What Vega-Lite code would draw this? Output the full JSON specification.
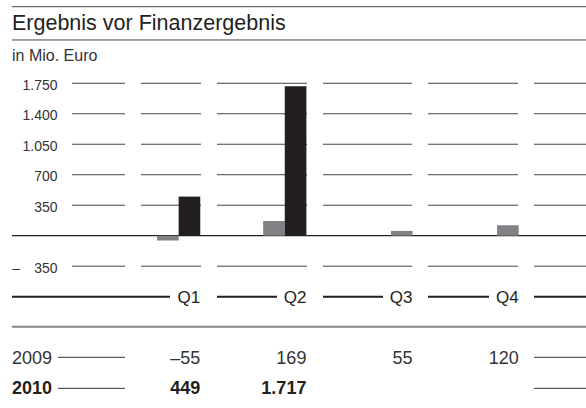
{
  "$schema": "https://vega.github.io/schema/vega-lite/v6.json",
  "width": 574,
  "height": 408,
  "autosize": "none",
  "padding": {"left": 12, "top": 0, "right": 0, "bottom": 0},
  "background": "white",
  "config": {
    "view": {"stroke": null},
    "font": "Liberation Sans",
    "locale": {"number": {"decimal": ",", "thousands": ".", "grouping": [3], "currency": ["", " €"], "minus": "–"}}
  },
  "data": {"values": [{"title": "Ergebnis vor Finanzergebnis", "unit": "in Mio. Euro"}]},
  "datasets": {
    "results": [
      {"quarter": "Q1", "year": "2009", "value": -55},
      {"quarter": "Q2", "year": "2009", "value": 169},
      {"quarter": "Q3", "year": "2009", "value": 55},
      {"quarter": "Q4", "year": "2009", "value": 120},
      {"quarter": "Q1", "year": "2010", "value": 449},
      {"quarter": "Q2", "year": "2010", "value": 1717}
    ],
    "ticks": [{"tick": -350}, {"tick": 350}, {"tick": 700}, {"tick": 1050}, {"tick": 1400}, {"tick": 1750}]
  },
  "layer": [
    {"mark": {"type": "rule", "color": "#444444", "strokeWidth": 1}, "encoding": {"y": {"datum": 2629}}},
    {"mark": {"type": "rule", "color": "#444444", "strokeWidth": 1}, "encoding": {"y": {"datum": 2247}}},
    {
      "mark": {"type": "text", "align": "left", "baseline": "alphabetic", "fontSize": 21.5, "color": "#231f20"},
      "encoding": {"x": {"value": 0}, "y": {"datum": 2356}, "text": {"field": "title"}}
    },
    {
      "mark": {"type": "text", "align": "left", "baseline": "alphabetic", "fontSize": 16, "color": "#333333"},
      "encoding": {"x": {"value": 0}, "y": {"datum": 2000}, "text": {"field": "unit"}}
    },
    {
      "data": {"name": "ticks"},
      "mark": {"type": "rule", "color": "#444444", "strokeWidth": 1, "strokeDash": [52, 16, 90, 16, 89, 16, 90, 16, 60, 16, 53, 60]},
      "encoding": {"y": {"field": "tick", "type": "quantitative"}}
    },
    {"mark": {"type": "rule", "color": "#231f20", "strokeWidth": 1.3}, "encoding": {"y": {"datum": 0}}},
    {
      "data": {"name": "results"},
      "transform": [
        {"window": [{"op": "row_number", "as": "slot"}], "groupby": ["quarter"], "sort": [{"field": "year", "order": "descending"}]}
      ],
      "mark": {"type": "bar"},
      "encoding": {
        "x": {
          "field": "quarter", "type": "nominal",
          "scale": {"domain": ["Q1", "Q2", "Q3", "Q4"], "paddingInner": 0.5924, "paddingOuter": 1.0166, "align": 0.683},
          "axis": null
        },
        "xOffset": {"field": "slot", "type": "ordinal", "scale": {"domain": [2, 1], "paddingInner": 0, "paddingOuter": 0}},
        "y": {
          "field": "value", "type": "quantitative", "stack": null,
          "scale": {"domain": [-1978, 2706], "nice": false},
          "axis": {
            "values": [-350, 350, 700, 1050, 1400, 1750],
            "labelExpr": "datum.value < 0 ? '–\u2002\u2002' + replace(format(-datum.value, ','), ',', '.') : replace(format(datum.value, ','), ',', '.')",
            "ticks": false, "domain": false, "grid": false,
            "labelPadding": -45, "labelFontSize": 14, "labelColor": "#333333", "labelFont": "Liberation Sans",
            "labelOverlap": false, "labelBound": false, "labelFlush": false, "labelOffset": 2,
            "title": null
          }
        },
        "color": {"field": "year", "type": "nominal", "scale": {"domain": ["2009", "2010"], "range": ["#808285", "#231f20"]}, "legend": null}
      }
    },
    {
      "mark": {"type": "rule", "color": "#231f20", "strokeWidth": 2, "strokeDash": [52, 45, 61, 45, 60, 46, 60, 47, 158]},
      "encoding": {"y": {"datum": -700}}
    },
    {
      "data": {"name": "results"},
      "transform": [{"filter": "datum.year == '2009'"}],
      "mark": {"type": "text", "align": "right", "baseline": "alphabetic", "fontSize": 17, "color": "#231f20"},
      "encoding": {
        "x": {"field": "quarter", "type": "nominal", "bandPosition": 1},
        "y": {"datum": -769},
        "text": {"field": "quarter"}
      }
    },
    {"mark": {"type": "rule", "color": "#858585", "strokeWidth": 1.8}, "encoding": {"y": {"datum": -1045}}},
    {
      "mark": {"type": "rule", "color": "#333333", "strokeWidth": 1, "strokeDash": [52, 409, 67, 46]},
      "encoding": {"y": {"datum": -1396}}
    },
    {
      "mark": {"type": "rule", "color": "#333333", "strokeWidth": 1, "strokeDash": [52, 409, 67, 46]},
      "encoding": {"y": {"datum": -1752}}
    },
    {
      "mark": {"type": "text", "align": "left", "baseline": "alphabetic", "fontSize": 18, "color": "#333333"},
      "encoding": {"x": {"value": 0}, "y": {"datum": -1473}, "text": {"value": "2009"}}
    },
    {
      "mark": {"type": "text", "align": "left", "baseline": "alphabetic", "fontSize": 18, "fontWeight": "bold", "color": "#231f20"},
      "encoding": {"x": {"value": 0}, "y": {"datum": -1817}, "text": {"value": "2010"}}
    },
    {
      "data": {"name": "results"},
      "transform": [{"filter": "datum.year == '2009'"}],
      "mark": {"type": "text", "align": "right", "baseline": "alphabetic", "fontSize": 18, "color": "#333333"},
      "encoding": {
        "x": {"field": "quarter", "type": "nominal", "bandPosition": 1},
        "y": {"datum": -1473},
        "text": {"field": "value", "type": "quantitative", "format": ",d"}
      }
    },
    {
      "data": {"name": "results"},
      "transform": [{"filter": "datum.year == '2010'"}],
      "mark": {"type": "text", "align": "right", "baseline": "alphabetic", "fontSize": 18, "fontWeight": "bold", "color": "#231f20"},
      "encoding": {
        "x": {"field": "quarter", "type": "nominal", "bandPosition": 1},
        "y": {"datum": -1817},
        "text": {"field": "value", "type": "quantitative", "format": ",d"}
      }
    }
  ]
}
